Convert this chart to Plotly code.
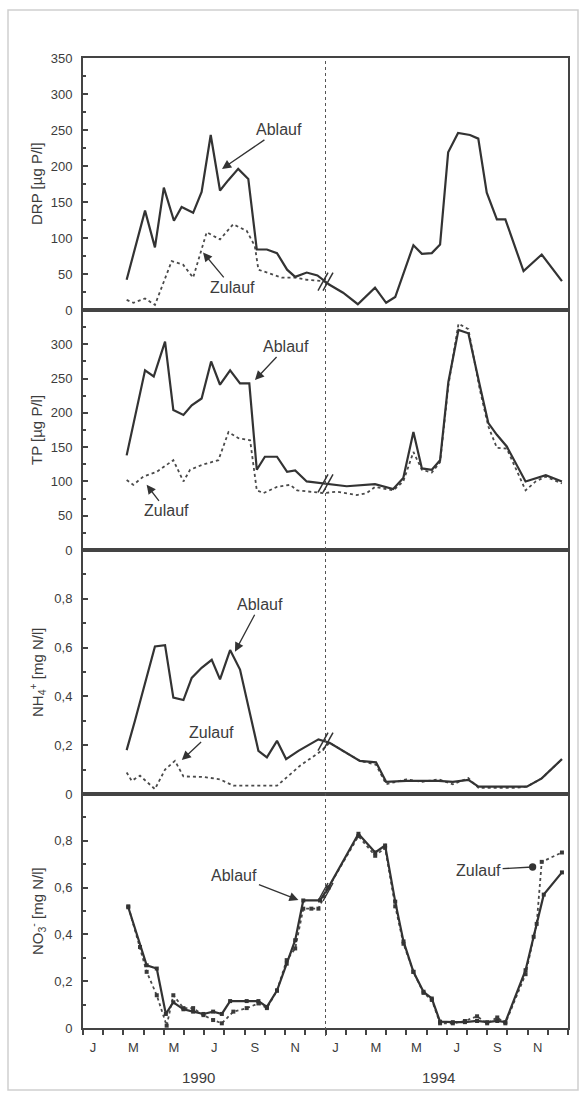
import numpy as np
import plotly.graph_objects as go
from plotly.subplots import make_subplots

# x values: months counted from 1 Jan 1990 (0-12 = 1990, 12-24 = 1994)
drp_abl_x = [2.16, 3.07, 3.56, 4.0, 4.5, 4.88, 5.45, 5.87, 6.32, 6.78, 7.18, 7.68, 8.18, 8.6, 9.1, 9.6, 10.1, 10.5, 11.07, 11.6, 12.2, 12.87, 13.6, 14.45, 15.0, 15.45, 16.35, 16.77, 17.26, 17.67, 18.07, 18.56, 19.15, 19.56, 19.98, 20.48, 20.9, 21.8, 22.7, 23.7]
drp_abl_y = [42, 138, 87, 170, 124, 143, 135, 164, 243, 166, 180, 196, 182, 84, 84, 79, 56, 46, 52, 48, 35, 24, 8, 31, 10, 18, 90, 78, 79, 91, 219, 246, 243, 238, 163, 126, 126, 54, 77, 40]
drp_zul_x = [2.16, 2.5, 3.07, 3.56, 4.39, 4.95, 5.45, 6.12, 6.78, 7.43, 8.1, 8.5, 8.68, 9.1, 9.84, 10.5, 11.07, 11.9, 12.2]
drp_zul_y = [14, 10, 16, 7, 68, 63, 45, 108, 98, 119, 110, 89, 56, 52, 45, 45, 42, 40, 35]

tp_abl_x = [2.16, 3.07, 3.5, 4.06, 4.47, 4.97, 5.38, 5.87, 6.34, 6.78, 7.28, 7.77, 8.23, 8.6, 9.0, 9.6, 10.1, 10.5, 11.07, 12.06, 13.05, 14.45, 15.35, 15.85, 16.35, 16.77, 17.26, 17.67, 18.08, 18.58, 19.07, 19.65, 20.06, 20.48, 20.97, 21.9, 22.4, 22.9, 23.7]
tp_abl_y = [138, 262, 253, 304, 204, 197, 211, 221, 275, 241, 262, 243, 243, 117, 136, 136, 114, 116, 100, 97, 93, 96, 89, 105, 172, 119, 117, 131, 245, 321, 316, 238, 185, 168, 151, 100, 105, 109, 100]
tp_zul_x = [2.16, 2.49, 2.98, 3.65, 4.47, 4.97, 5.3, 5.88, 6.7, 7.2, 7.69, 8.27, 8.6, 8.93, 9.6, 10.25, 10.6, 11.2, 11.9, 12.56, 13.55, 14.04, 14.45, 15.35, 15.85, 16.35, 16.77, 17.26, 17.67, 18.08, 18.58, 19.07, 19.65, 20.06, 20.48, 20.97, 21.9, 22.4, 22.9, 23.7]
tp_zul_y = [102, 95, 107, 114, 131, 100, 117, 124, 131, 172, 163, 160, 87, 83, 92, 95, 87, 85, 83, 85, 80, 83, 92, 87, 100, 143, 117, 113, 128, 240, 330, 322, 232, 180, 149, 148, 87, 100, 107, 97]

nh4_abl_x = [2.16, 2.57, 3.56, 4.06, 4.47, 4.97, 5.38, 5.87, 6.37, 6.78, 7.28, 7.77, 8.68, 9.1, 9.6, 10.05, 10.66, 11.65, 12.2, 13.0, 13.7, 14.5, 15.0, 16.0, 16.8, 17.6, 18.3, 19.07, 19.57, 20.5, 21.3, 21.96, 22.7, 23.7]
nh4_abl_y = [0.18, 0.30, 0.605, 0.61, 0.395, 0.385, 0.476, 0.517, 0.55, 0.47, 0.59, 0.51, 0.177, 0.15, 0.218, 0.143, 0.177, 0.224, 0.21, 0.17, 0.136, 0.13, 0.05, 0.054, 0.055, 0.054, 0.05, 0.058, 0.03, 0.03, 0.03, 0.03, 0.064, 0.143]
nh4_zul_x = [2.16, 2.41, 2.82, 3.56, 4.06, 4.55, 4.97, 5.96, 6.78, 7.44, 8.43, 9.6, 10.08, 10.74, 11.8, 12.2, 13.0, 13.7, 14.5, 15.0, 16.0, 16.8, 17.6, 18.3, 19.07, 19.57, 20.5, 21.3, 21.96, 22.7, 23.7]
nh4_zul_y = [0.088, 0.054, 0.075, 0.02, 0.10, 0.136, 0.072, 0.07, 0.06, 0.034, 0.034, 0.034, 0.068, 0.116, 0.177, 0.21, 0.17, 0.136, 0.12, 0.04, 0.06, 0.05, 0.06, 0.04, 0.065, 0.025, 0.025, 0.025, 0.03, 0.064, 0.143]

no3_abl_x = [2.24, 3.15, 3.65, 4.1, 4.47, 4.97, 5.45, 5.96, 6.44, 6.87, 7.28, 8.1, 8.68, 9.1, 9.6, 10.08, 10.5, 10.9, 11.73, 12.14, 13.63, 14.46, 14.95, 15.45, 15.86, 16.35, 16.85, 17.26, 17.67, 18.3, 18.9, 19.5, 20.0, 20.5, 20.9, 21.9, 22.3, 22.8, 23.7]
no3_abl_y = [0.516, 0.268, 0.254, 0.06, 0.11, 0.08, 0.07, 0.06, 0.07, 0.06, 0.115, 0.115, 0.115, 0.09, 0.16, 0.275, 0.375, 0.545, 0.545, 0.60, 0.83, 0.75, 0.78, 0.54, 0.37, 0.24, 0.155, 0.126, 0.027, 0.025, 0.025, 0.03, 0.025, 0.03, 0.025, 0.247, 0.39, 0.57, 0.665]
no3_zul_x = [2.24, 2.82, 3.15, 3.65, 4.14, 4.47, 4.97, 5.45, 5.96, 6.44, 6.87, 7.44, 8.1, 8.68, 9.1, 9.6, 10.08, 10.5, 10.9, 11.3, 11.65, 12.14, 13.63, 14.46, 14.95, 15.45, 15.86, 16.35, 16.85, 17.26, 17.67, 18.3, 18.9, 19.5, 20.0, 20.5, 20.9, 21.9, 22.45, 22.7, 23.7]
no3_zul_y = [0.52, 0.346, 0.24, 0.14, 0.01, 0.14, 0.085, 0.085, 0.055, 0.034, 0.02, 0.07, 0.085, 0.105, 0.085, 0.16, 0.29, 0.34, 0.51, 0.51, 0.51, 0.60, 0.82, 0.736, 0.77, 0.52, 0.36, 0.24, 0.15, 0.12, 0.02, 0.02, 0.03, 0.05, 0.02, 0.045, 0.02, 0.23, 0.445, 0.71, 0.75]

month_ticks = list(range(25))
month_label_pos = [0.5, 2.5, 4.5, 6.5, 8.5, 10.5, 12.5, 14.5, 16.5, 18.5, 20.5, 22.5]
month_labels = ["J", "M", "M", "J", "S", "N", "J", "M", "M", "J", "S", "N"]
year_labels = ["1990", "1994"]
year_pos = [5.7, 17.6]
break_x = 12

ug_ticks = [0, 50, 100, 150, 200, 250, 300, 350]
ug_minor = [25, 75, 125, 175, 225, 275, 325]
tp_ticks = [0, 50, 100, 150, 200, 250, 300]
mg_ticks = [0, 0.2, 0.4, 0.6, 0.8]
mg_ticktext = ["0", "0,2", "0,4", "0,6", "0,8"]
mg_minor = [0.1, 0.3, 0.5, 0.7, 0.9]

y_titles = ["DRP [µg P/l]", "TP [µg P/l]", "NH<sub>4</sub><sup>+</sup> [mg N/l]", "NO<sub>3</sub><sup>-</sup> [mg N/l]"]

W, H = 585, 1100
FONT = "Liberation Sans, Arial, sans-serif"
DARK = "#333333"
TXT = "#3c3c3c"

px_x0, px_x1 = 83, 568
panel_px = [(58, 310), (310, 550), (550, 794), (794, 1028)]

fig = make_subplots(rows=4, cols=1, shared_xaxes=True, vertical_spacing=0)

series = [
    (drp_abl_x, drp_abl_y, drp_zul_x, drp_zul_y),
    (tp_abl_x, tp_abl_y, tp_zul_x, tp_zul_y),
    (nh4_abl_x, nh4_abl_y, nh4_zul_x, nh4_zul_y),
    (no3_abl_x, no3_abl_y, no3_zul_x, no3_zul_y),
]

for i, (ax_, ay_, zx, zy) in enumerate(series):
    row = i + 1
    markers = (i == 3)
    fig.add_trace(go.Scatter(
        x=zx, y=zy, mode="lines+markers" if markers else "lines",
        line=dict(color="#4a4a4a", width=1.8, dash="dot"),
        marker=dict(symbol="square", size=4, color="#3a3a3a"),
        showlegend=False, hoverinfo="skip"), row=row, col=1)
    fig.add_trace(go.Scatter(
        x=ax_, y=ay_, mode="lines+markers" if markers else "lines",
        line=dict(color=DARK, width=2.2),
        marker=dict(symbol="square", size=4, color=DARK),
        showlegend=False, hoverinfo="skip"), row=row, col=1)

axis_line = dict(showline=True, mirror=True, linewidth=2, linecolor="#444444",
                 showgrid=False, zeroline=False, automargin=False)

fig.update_layout(
    width=W, height=H, autosize=False,
    margin=dict(l=0, r=0, t=0, b=0, pad=0),
    paper_bgcolor="white", plot_bgcolor="white",
    font=dict(family=FONT, color=TXT, size=13),
    showlegend=False,
)

xdom = [px_x0 / W, px_x1 / W]
for i, (t, b) in enumerate(panel_px):
    n = "" if i == 0 else str(i + 1)
    ydom = [1 - b / H, 1 - t / H]
    xa = dict(axis_line, domain=xdom, range=[0, 24])
    if i < 3:
        xa.update(showticklabels=False, ticks="")
    else:
        xa.update(tickmode="array", tickvals=month_label_pos, ticktext=month_labels,
                  ticks="", showticklabels=True, ticklabelstandoff=6,
                  tickfont=dict(size=13, color=TXT),
                  minor=dict(tickmode="array", tickvals=month_ticks, ticks="outside",
                             ticklen=5, tickwidth=1.5, tickcolor="#444444"))
    fig.layout["xaxis" + n].update(xa)

    ya = dict(axis_line, domain=ydom, ticks="inside", ticklen=5, tickwidth=1.5,
              tickcolor="#444444", ticklabelstandoff=6, tickfont=dict(size=13, color=TXT))
    if i == 0:
        ya.update(range=[0, 350], tickmode="array", tickvals=ug_ticks,
                  minor=dict(tickmode="array", tickvals=ug_minor, ticks="inside", ticklen=3, tickcolor="#444444"))
    elif i == 1:
        ya.update(range=[0, 350], tickmode="array", tickvals=tp_ticks,
                  minor=dict(tickmode="array", tickvals=ug_minor, ticks="inside", ticklen=3, tickcolor="#444444"))
    else:
        ya.update(range=[0, 1.0], tickmode="array", tickvals=mg_ticks, ticktext=mg_ticktext,
                  minor=dict(tickmode="array", tickvals=mg_minor, ticks="inside", ticklen=3, tickcolor="#444444"))
    fig.layout["yaxis" + n].update(ya)

annotations = []
# y axis titles
for i, (t, b) in enumerate(panel_px):
    annotations.append(dict(
        text=y_titles[i], xref="paper", yref="paper", x=37 / W, y=1 - (t + b) / 2 / H,
        showarrow=False, textangle=-90, font=dict(size=15, color=TXT),
        xanchor="center", yanchor="middle"))

# year labels
for lab, pos in zip(year_labels, year_pos):
    annotations.append(dict(text=lab, xref="x4", yref="paper", x=pos, y=1 - 1077 / H,
                            showarrow=False, font=dict(size=15, color=TXT),
                            yanchor="middle"))

# arrow annotations (head in data coords, text offset in px)
arrow_specs = [
    ("Ablauf", "x", "y", 6.88, 196, 57, -39, 2),
    ("Zulauf", "x", "y", 5.94, 80, 29, 35, 2),
    ("Ablauf", "x2", "y2", 8.51, 248, 31, -33, 2),
    ("Zulauf", "x2", "y2", 3.15, 95, 20, 26, 2),
    ("Ablauf", "x3", "y3", 7.52, 0.583, 25, -47, 2),
    ("Zulauf", "x3", "y3", 4.89, 0.139, 30, -28, 2),
    ("Ablauf", "x4", "y4", 10.66, 0.547, -64, -25, 2),
    ("Zulauf", "x4", "y4", 22.25, 0.688, -54, 3, 6),
]
for text, xr, yr, hx, hy, dx, dy, head in arrow_specs:
    annotations.append(dict(
        text=text, xref=xr, yref=yr, x=hx, y=hy, ax=dx, ay=dy,
        showarrow=True, arrowhead=head, arrowsize=1.4, arrowwidth=1.3,
        arrowcolor="#333333", font=dict(size=16, color=TXT)))

shapes = []
# outer light frame
shapes.append(dict(type="rect", xref="paper", yref="paper",
                   x0=8 / W, x1=578 / W, y0=1 - 1090 / H, y1=1 - 10 / H,
                   line=dict(color="#cfcfcf", width=1.5), layer="below"))
# dotted separator line between 1990 and 1994
shapes.append(dict(type="line", xref="x4", yref="paper", x0=break_x, x1=break_x,
                   y0=1 - 1036 / H, y1=1 - 58 / H,
                   line=dict(color="#555555", width=1, dash="dot")))
# break marks "//" on the curves
for i, (ax_, ay_, zx, zy) in enumerate(series):
    n = "" if i == 0 else str(i + 1)
    v = float(np.interp(break_x, ax_, ay_))
    for dxp in (-2.5, 2.5):
        shapes.append(dict(type="line", xref="x" + n, yref="y" + n,
                           xsizemode="pixel", ysizemode="pixel",
                           xanchor=break_x, yanchor=v,
                           x0=dxp - 5, x1=dxp + 5, y0=-9, y1=9,
                           line=dict(color="#333333", width=1.5)))

fig.update_layout(annotations=annotations, shapes=shapes)
fig.write_html("out.html")
